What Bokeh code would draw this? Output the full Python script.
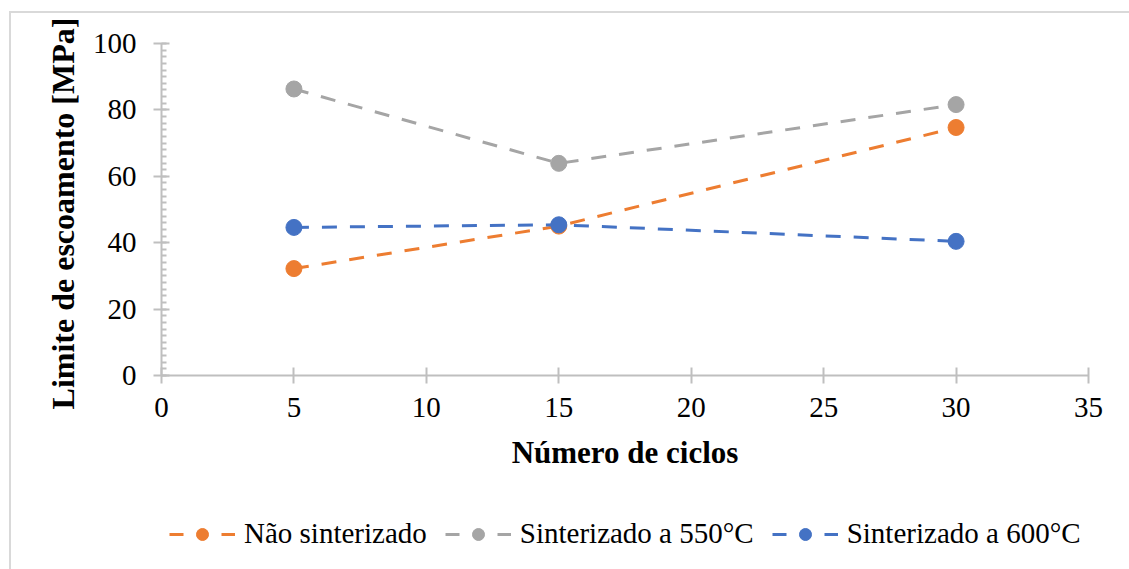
from bokeh.plotting import figure
from bokeh.layouts import column
from bokeh.models import (Legend, LegendItem, Title, SingleIntervalTicker, Range1d)
from bokeh.embed import file_html
from bokeh.resources import INLINE

# ---- data ----
ciclos = [5, 15, 30]
nao_sinterizado = [32.2, 45.0, 74.7]
sinterizado_550 = [86.3, 63.9, 81.6]
sinterizado_600 = [44.6, 45.4, 40.4]
series_names = ["Não sinterizado", "Sinterizado a 550°C", "Sinterizado a 600°C"]
x_title = "Número de ciclos"
y_title = "Limite  de escoamento [MPa]"

colors = ["#ED7D31", "#A5A5A5", "#4472C4"]
FONT = "Liberation Serif"
AXIS_COLOR = "#BFBFBF"
series = [nao_sinterizado, sinterizado_550, sinterizado_600]

# ---------------- main chart ----------------
p = figure(width=1118, height=490, output_backend="svg", toolbar_location=None,
           x_range=Range1d(0, 35), y_range=Range1d(0, 100),
           min_border_left=150, min_border_right=41, min_border_top=30,
           min_border_bottom=128)
p.outline_line_color = None
p.xgrid.visible = False
p.ygrid.visible = False
p.background_fill_color = "white"
p.border_fill_color = "white"

p.xaxis.ticker = SingleIntervalTicker(interval=5, num_minor_ticks=0)
p.yaxis.ticker = SingleIntervalTicker(interval=20, num_minor_ticks=10)
for ax in (p.xaxis[0], p.yaxis[0]):
    ax.axis_line_color = AXIS_COLOR
    ax.axis_line_width = 2
    ax.major_tick_line_color = AXIS_COLOR
    ax.major_tick_line_width = 2
    ax.major_tick_in = 8
    ax.major_tick_out = 8
    ax.major_label_text_font = FONT
    ax.major_label_text_font_size = "29px"
    ax.major_label_text_color = "black"
    ax.axis_label_text_font = FONT
    ax.axis_label_text_font_style = "bold"
    ax.axis_label_text_font_size = "31px"
    ax.axis_label_text_color = "black"
p.xaxis.minor_tick_line_color = None
p.yaxis.minor_tick_line_color = AXIS_COLOR
p.yaxis.minor_tick_line_width = 2
p.yaxis.minor_tick_in = 5
p.yaxis.minor_tick_out = 0
p.yaxis.major_label_standoff = 17
p.xaxis.major_label_standoff = 14

p.xaxis.axis_label = x_title
p.xaxis.axis_label_standoff = 15

ytitle = Title(text=y_title, align="center", offset=-35, standoff=18,
               text_font=FONT, text_font_style="bold", text_font_size="32px",
               text_color="black")
p.add_layout(ytitle, "left")

for vals, c in zip(series, colors):
    p.line(ciclos, vals, line_color=c, line_width=3, line_dash="15 13")
    p.scatter(ciclos, vals, size=16, fill_color=c, line_color=c)

# ---------------- legend strip ----------------
pl = figure(width=1118, height=66, output_backend="svg", toolbar_location=None,
            x_range=Range1d(100, 101), y_range=Range1d(100, 101),
            min_border=0, x_axis_location=None, y_axis_location=None)
pl.outline_line_color = None
pl.xgrid.visible = False
pl.ygrid.visible = False
pl.border_fill_color = "white"
pl.background_fill_color = "white"

items = []
for name, vals, c in zip(series_names, series, colors):
    l = pl.line(ciclos, vals, line_color=c, line_width=3, line_dash="14 38")
    s = pl.scatter(ciclos, vals, size=15, fill_color=c, line_color=c)
    items.append(LegendItem(label=name, renderers=[l, s]))

legend = Legend(items=items, orientation="horizontal", location=(8, 19),
                glyph_width=66, glyph_height=30, label_standoff=9, spacing=18,
                padding=0, margin=0, border_line_color=None,
                background_fill_alpha=0,
                label_text_font=FONT, label_text_font_size="29px",
                label_text_color="black")
pl.add_layout(legend, "center")

layout = column(p, pl, spacing=0,
                styles={"margin-left": "9px", "margin-top": "11px",
                        "border-left": "2px solid #D9D9D9",
                        "border-top": "2px solid #D9D9D9"})

open("out.html", "w").write(file_html(layout, INLINE))
